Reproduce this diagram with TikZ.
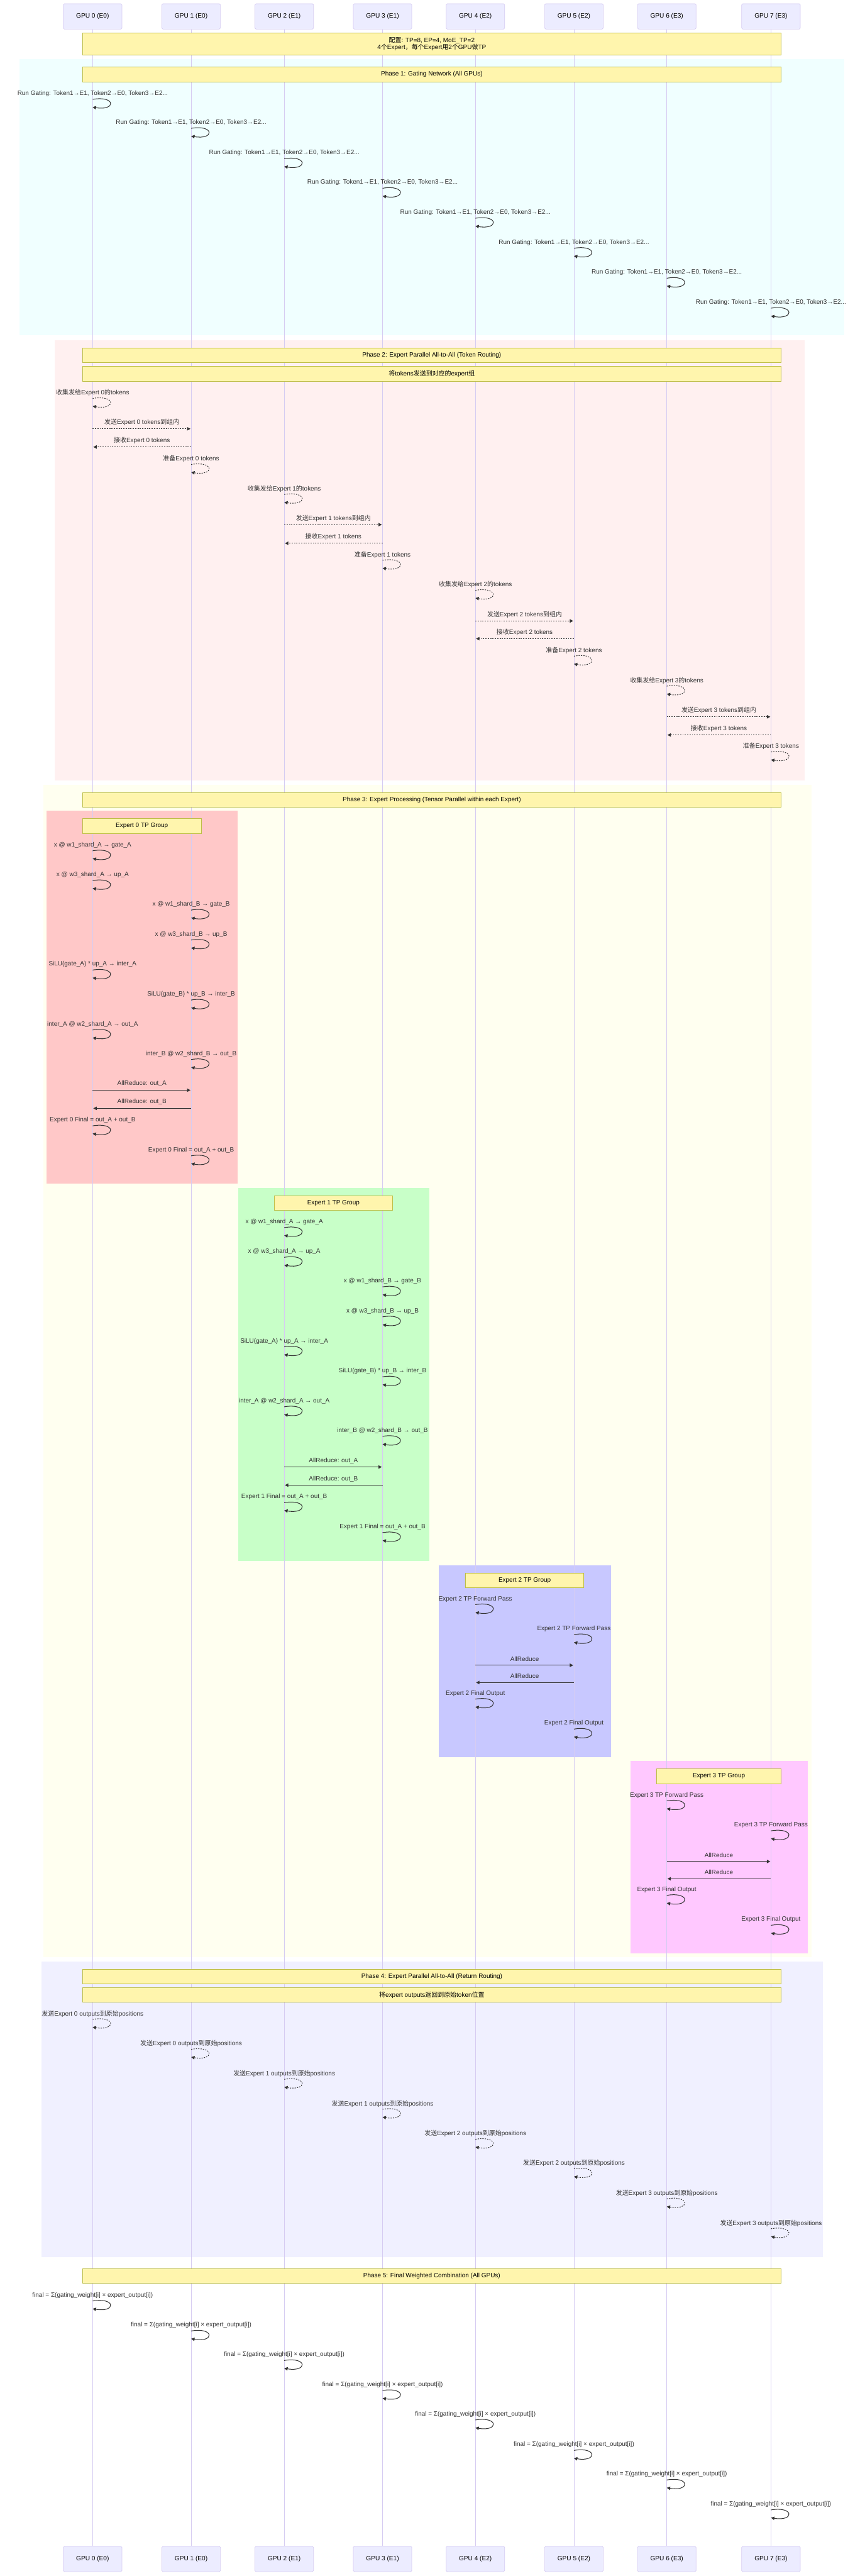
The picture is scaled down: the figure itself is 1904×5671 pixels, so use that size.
\documentclass[tikz,border=0pt]{standalone}
\usepackage{fontspec}
\setmainfont{Liberation Sans}
\newfontfamily\cjk{Noto Sans CJK SC}
\usetikzlibrary{arrows.meta}
\definecolor{actorfill}{RGB}{236,236,255}
\definecolor{actorline}{RGB}{214,204,242}
\definecolor{notefill}{RGB}{255,245,173}
\definecolor{notestroke}{RGB}{190,190,70}
\definecolor{msgc}{RGB}{51,51,51}
\definecolor{arrc}{RGB}{51,51,51}
\definecolor{pAbg}{RGB}{240,255,255}
\definecolor{pBbg}{RGB}{255,240,240}
\definecolor{pCbg}{RGB}{255,255,240}
\definecolor{pDbg}{RGB}{240,240,255}
\definecolor{eAbg}{RGB}{255,200,200}
\definecolor{eBbg}{RGB}{200,255,200}
\definecolor{eCbg}{RGB}{200,200,255}
\definecolor{eDbg}{RGB}{255,200,255}
\newcommand\zh[1]{{\cjk #1}}
\newcommand\msgfont{\fontsize{13.8}{16}\selectfont}
\newcommand\selfm[5][]{%
  \node[msg] (#2t) at (#3,#4) {#5};
  \coordinate (#2a) at (#3,#4+12.5);
  \coordinate (#2b) at (#3,#4+29.7);
  \draw[loopline,#1] (#2a) .. controls +(51.6,-8.6) and +(51.6,8.6) .. (#2b);
}
\newcommand\arrm[6][]{%
  \node[msg] (#2t) at ({(#3+#4)/2},#5) {#6};
  \coordinate (#2a) at (#3,#5+14);
  \coordinate (#2b) at (#4,#5+14);
  \draw[msgline,#1] (#2a) -- (#2b);
}
\begin{document}
\begin{tikzpicture}[x=1pt,y=-1pt,
  actorbox/.style={draw=actorline, line width=1pt, fill=actorfill, rounded corners=2.5pt, minimum width=129pt, minimum height=56pt, font=\fontsize{14}{16}\selectfont, text=black, inner sep=0pt},
  lifeline/.style={draw=actorline, line width=1.2pt},
  notebox/.style={draw=notestroke, line width=1.2pt, fill=notefill, font=\msgfont, text=black, inner sep=0pt, align=center},
  msg/.style={font=\msgfont, text=msgc, inner sep=0pt},
  loopline/.style={draw=arrc, line width=1.4pt, -{Triangle[length=7.5pt,width=7.5pt]}},
  msgline/.style={loopline, shorten >=1.5pt},
  dots/.style={dash pattern=on 2.6pt off 2.6pt}]
\useasboundingbox (0,0) rectangle (1904,5671);
\fill[white] (0,0) rectangle (1904,5671);
% backgrounds
\fill[pAbg] (42.5,130) rectangle (1860,738);
\fill[pBbg] (120,749) rectangle (1772,1718);
\fill[pCbg] (95,1728) rectangle (1787,4308);
\fill[eAbg] (103,1785) rectangle (523,2606);
\fill[eBbg] (525,2615) rectangle (945,3436);
\fill[eCbg] (967,3446) rectangle (1346,3868);
\fill[eDbg] (1389,3877) rectangle (1779,4300);
\fill[pDbg] (91,4318) rectangle (1813,4969);
% actors
\foreach \x/\t [count=\i from 0] in {204/GPU 0 (E0),421/GPU 1 (E0),626/GPU 2 (E1),842.5/GPU 3 (E1),1047/GPU 4 (E2),1264/GPU 5 (E2),1468.5/GPU 6 (E3),1698/GPU 7 (E3)}{
  \node[actorbox] (h\i) at (\x,36.2) {\t};
  \node[actorbox] (f\i) at (\x,5633.5) {\t};
  \draw[lifeline] (h\i.south) -- (f\i.north);
}
% notes
\node[notebox, minimum width=1538pt, minimum height=48pt] (ncfg) at (951,97) {\zh{配置}: TP=8, EP=4, MoE\_TP=2\\4\zh{个}Expert\zh{，每个}Expert\zh{用}2\zh{个}GPU\zh{做}TP};
\node[notebox, minimum width=1538pt, minimum height=33pt] (nA) at (951,163.5) {Phase 1: Gating Network (All GPUs)};
\node[notebox, minimum width=1538pt, minimum height=32pt] (nB1) at (951,782) {Phase 2: Expert Parallel All-to-All (Token Routing)};
\node[notebox, minimum width=1538pt, minimum height=33pt] (nB2) at (951,822.5) {\zh{将}tokens\zh{发送到对应的}expert\zh{组}};
\node[notebox, minimum width=1538pt, minimum height=32pt] (nC) at (951,1760.5) {Phase 3: Expert Processing (Tensor Parallel within each Expert)};
\node[notebox, minimum width=261pt, minimum height=32pt] (nE0) at (312.5,1818.5) {Expert 0 TP Group};
\node[notebox, minimum width=260.5pt, minimum height=32pt] (nE1) at (734.25,2648) {Expert 1 TP Group};
\node[notebox, minimum width=261pt, minimum height=32pt] (nE2) at (1155.5,3479) {Expert 2 TP Group};
\node[notebox, minimum width=273.5pt, minimum height=32pt] (nE3) at (1583.25,3910.5) {Expert 3 TP Group};
\node[notebox, minimum width=1538pt, minimum height=32pt] (nD1) at (951,4351) {Phase 4: Expert Parallel All-to-All (Return Routing)};
\node[notebox, minimum width=1538pt, minimum height=33pt] (nD2) at (951,4391.5) {\zh{将}expert outputs\zh{返回到原始}token\zh{位置}};
\node[notebox, minimum width=1538pt, minimum height=33pt] (nF) at (951,5010.5) {Phase 5: Final Weighted Combination (All GPUs)};
% phase 1
\foreach \x/\y [count=\i] in {204/206.2,421/270,626/337,842.5/402,1047/468,1264/534,1468.5/600,1698/666}{
  \selfm{g\i}{\x}{\y}{Run Gating: Token1→E1, Token2→E0, Token3→E2...}
}
% phase 2
\selfm[dots]{a1}{204}{864.6}{\zh{收集发给}Expert 0\zh{的}tokens}
\arrm[dots]{a2}{204}{421}{930}{\zh{发送}Expert 0 tokens\zh{到组内}}
\arrm[dots]{a3}{421}{204}{970}{\zh{接收}Expert 0 tokens}
\selfm[dots]{a4}{421}{1010}{\zh{准备}Expert 0 tokens}
\selfm[dots]{a5}{626}{1076}{\zh{收集发给}Expert 1\zh{的}tokens}
\arrm[dots]{a6}{626}{842.5}{1141}{\zh{发送}Expert 1 tokens\zh{到组内}}
\arrm[dots]{a7}{842.5}{626}{1182}{\zh{接收}Expert 1 tokens}
\selfm[dots]{a8}{842.5}{1221}{\zh{准备}Expert 1 tokens}
\selfm[dots]{a9}{1047}{1287}{\zh{收集发给}Expert 2\zh{的}tokens}
\arrm[dots]{a10}{1047}{1264}{1353}{\zh{发送}Expert 2 tokens\zh{到组内}}
\arrm[dots]{a11}{1264}{1047}{1392}{\zh{接收}Expert 2 tokens}
\selfm[dots]{a12}{1264}{1432}{\zh{准备}Expert 2 tokens}
\selfm[dots]{a13}{1468.5}{1498}{\zh{收集发给}Expert 3\zh{的}tokens}
\arrm[dots]{a14}{1468.5}{1698}{1564}{\zh{发送}Expert 3 tokens\zh{到组内}}
\arrm[dots]{a15}{1698}{1468.5}{1604}{\zh{接收}Expert 3 tokens}
\selfm[dots]{a16}{1698}{1643}{\zh{准备}Expert 3 tokens}
% phase 3, experts 0 and 1
\foreach \xa/\xb/\e/\o [count=\i] in {204/421/0/0, 626/842.5/1/829.5}{
  \selfm{b\i a}{\xa}{1860.5+\o}{x @ w1\_shard\_A → gate\_A}
  \selfm{b\i b}{\xa}{1926+\o}{x @ w3\_shard\_A → up\_A}
  \selfm{b\i c}{\xb}{1991+\o}{x @ w1\_shard\_B → gate\_B}
  \selfm{b\i d}{\xb}{2057+\o}{x @ w3\_shard\_B → up\_B}
  \selfm{b\i e}{\xa}{2123+\o}{SiLU(gate\_A) * up\_A → inter\_A}
  \selfm{b\i f}{\xb}{2189+\o}{SiLU(gate\_B) * up\_B → inter\_B}
  \selfm{b\i g}{\xa}{2255+\o}{inter\_A @ w2\_shard\_A → out\_A}
  \selfm{b\i h}{\xb}{2320+\o}{inter\_B @ w2\_shard\_B → out\_B}
  \arrm{b\i i}{\xa}{\xb}{2386+\o}{AllReduce: out\_A}
  \arrm{b\i j}{\xb}{\xa}{2426+\o}{AllReduce: out\_B}
  \selfm{b\i k}{\xa}{2466+\o}{Expert \e\ Final = out\_A + out\_B}
  \selfm{b\i l}{\xb}{2532+\o}{Expert \e\ Final = out\_A + out\_B}
}
% experts 2 and 3
\foreach \xa/\xb/\e/\o [count=\i] in {1047/1264/2/0, 1468.5/1698/3/432}{
  \selfm{c\i a}{\xa}{3520+\o}{Expert \e\ TP Forward Pass}
  \selfm{c\i b}{\xb}{3586+\o}{Expert \e\ TP Forward Pass}
  \arrm{c\i c}{\xa}{\xb}{3652+\o}{AllReduce}
  \arrm{c\i d}{\xb}{\xa}{3690+\o}{AllReduce}
  \selfm{c\i e}{\xa}{3728+\o}{Expert \e\ Final Output}
  \selfm{c\i f}{\xb}{3794+\o}{Expert \e\ Final Output}
}
% phase 4
\foreach \x/\y/\e [count=\i] in {204/4433/0,421/4499/0,626/4565/1,842.5/4631/1,1047/4697/2,1264/4762/2,1468.5/4828/3,1698/4894/3}{
  \selfm[dots]{d\i}{\x}{\y}{\zh{发送}Expert \e\ outputs\zh{到原始}positions}
}
% phase 5
\foreach \x/\y [count=\i] in {204/5053,421/5119,626/5184,842.5/5250,1047/5315,1264/5382,1468.5/5447,1698/5513}{
  \selfm{e\i}{\x}{\y}{final = Σ(gating\_weight[i] × expert\_output[i])}
}
\end{tikzpicture}
\end{document}
